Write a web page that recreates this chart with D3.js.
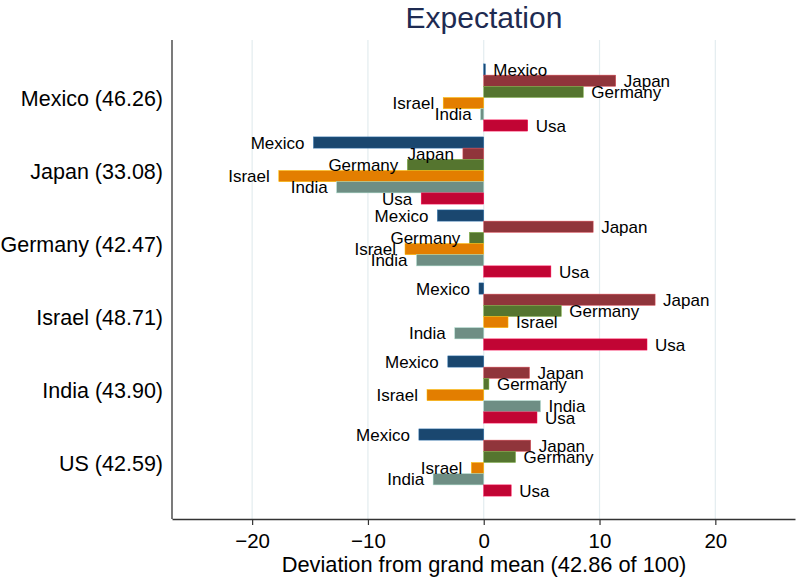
<!DOCTYPE html>
<html><head><meta charset="utf-8">
<script src="https://cdn.jsdelivr.net/npm/d3@7"></script>
<style>body{margin:0;background:#fff}svg{display:block;font-family:"Liberation Sans",Arial,sans-serif}</style>
</head><body><svg id="c" width="796" height="578"></svg>
<script>
const groups = ["Mexico (46.26)", "Japan (33.08)", "Germany (42.47)", "Israel (48.71)", "India (43.90)", "US (42.59)"];
const series = ["Mexico", "Japan", "Germany", "Israel", "India", "Usa"];
const mexicoVals  = [0.14, -14.7, -4.0, -0.41, -3.1, -5.6];
const japanVals   = [11.4, -1.8, 9.45, 14.8, 3.95, 4.06];
const germanyVals = [8.6, -6.6, -1.24, 6.7, 0.45, 2.75];
const israelVals  = [-3.5, -17.7, -6.8, 2.1, -4.9, -1.07];
const indiaVals   = [-0.27, -12.7, -5.8, -2.5, 4.9, -4.37];
const usaVals     = [3.8, -5.4, 5.8, 14.1, 4.6, 2.37];
const xTicks = [-20, -10, 0, 10, 20];
const titleText = "Expectation";
const xTitle = "Deviation from grand mean (42.86 of 100)";

const seriesVals = [mexicoVals, japanVals, germanyVals, israelVals, indiaVals, usaVals];
const colors = ["#1a476f", "#90353b", "#55752f", "#e37e00", "#6e8e84", "#c10534"];

const svg = d3.select("#c");
const L = 172, R = 795, T = 40, B = 519;
const x = d3.scaleLinear().domain([-26.92, 26.88]).range([L, R]);
const y0 = d3.scaleBand().domain(groups).range([61, 499]).paddingInner(0.08).paddingOuter(0.04);
const y1 = d3.scaleBand().domain(series).range([0, y0.bandwidth()]);

// gridlines
svg.append("g").selectAll("line").data(xTicks).join("line")
  .attr("x1", d => x(d)).attr("x2", d => x(d)).attr("y1", T).attr("y2", B)
  .attr("stroke", "#e3ecef").attr("stroke-width", 1.2);

// bars
const data = [];
groups.forEach((g, gi) => series.forEach((s, si) => data.push({g, s, si, v: seriesVals[si][gi]})));
svg.append("g").selectAll("rect").data(data).join("rect")
  .attr("x", d => Math.min(x(0), x(d.v)))
  .attr("width", d => Math.abs(x(d.v) - x(0)))
  .attr("y", d => y0(d.g) + y1(d.s))
  .attr("height", y1.bandwidth())
  .attr("fill", d => colors[d.si])
  .attr("stroke", d => d3.color(colors[d.si]).brighter(1.2))
  .attr("stroke-width", 0.5);

// bar labels
svg.append("g").selectAll("text").data(data).join("text")
  .attr("x", d => d.v >= 0 ? x(d.v) + 8 : x(d.v) - 9)
  .attr("y", d => y0(d.g) + y1(d.s) + y1.bandwidth() / 2)
  .attr("dy", "0.36em")
  .attr("text-anchor", d => d.v >= 0 ? "start" : "end")
  .attr("font-size", 17).attr("fill", "#000")
  .text(d => d.s);

// left axis line and group labels
svg.append("line").attr("x1", L).attr("x2", L).attr("y1", T).attr("y2", B)
  .attr("stroke", "#333").attr("stroke-width", 1.3);
svg.append("g").selectAll("text").data(groups).join("text")
  .attr("x", 163).attr("y", d => y0(d) + y0.bandwidth() / 2 + 1)
  .attr("dy", "0.36em").attr("text-anchor", "end")
  .attr("font-size", 21.5).attr("fill", "#000").text(d => d);

// bottom axis
const ax = svg.append("g").attr("transform", `translate(0,${B})`)
  .call(d3.axisBottom(x).tickValues(xTicks).tickSize(6).tickPadding(8).tickSizeOuter(0));
ax.select(".domain").attr("stroke", "#333").attr("stroke-width", 1.3);
ax.selectAll(".tick line").attr("stroke", "#333").attr("stroke-width", 1.2);
ax.selectAll(".tick text").attr("font-size", 20.5).attr("fill", "#000")
  .attr("font-family", '"Liberation Sans",Arial,sans-serif');

svg.append("text").attr("x", 484).attr("y", 572).attr("text-anchor", "middle")
  .attr("font-size", 21.8).attr("fill", "#000").text(xTitle);

svg.append("text").attr("x", 484).attr("y", 28).attr("text-anchor", "middle")
  .attr("font-size", 30).attr("fill", "#1e2b52").text(titleText);
</script></body></html>
